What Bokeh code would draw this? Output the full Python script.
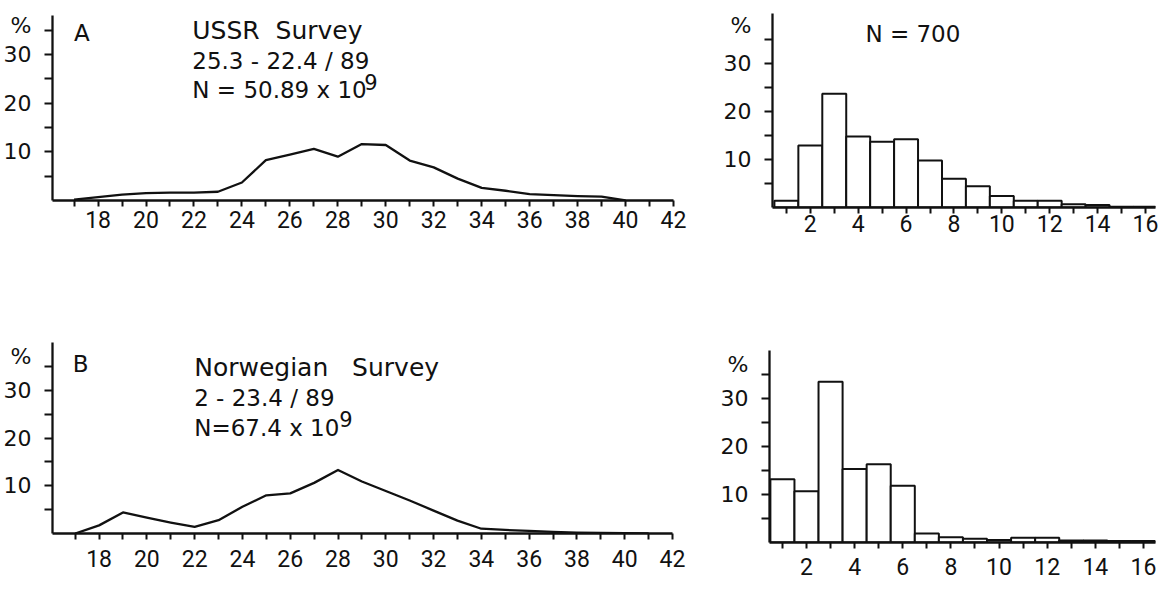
from bokeh.plotting import figure
from bokeh.layouts import column, row
from bokeh.models import FixedTicker, Label, Range1d
from bokeh.embed import file_html
from bokeh.resources import INLINE

# ---------------- data ----------------
lengthA = list(range(17, 41))
percentA = [0.2, 0.7, 1.2, 1.5, 1.6, 1.6, 1.8, 3.7, 8.3, 9.4, 10.6, 9.0,
            11.6, 11.4, 8.2, 6.8, 4.5, 2.6, 2.0, 1.3, 1.1, 0.9, 0.8, 0.0]

lengthB = list(range(17, 42))
percentB = [0.0, 1.7, 4.4, 3.3, 2.3, 1.4, 2.8, 5.6, 8.0, 8.4, 10.6, 13.3,
            10.9, 8.9, 6.9, 4.8, 2.7, 1.0, 0.75, 0.55, 0.35, 0.2, 0.1, 0.05, 0.0]

ageA = list(range(1, 17))
agePctA = [1.4, 12.9, 23.7, 14.8, 13.7, 14.2, 9.8, 6.0, 4.4, 2.4, 1.4, 1.4,
           0.7, 0.5, 0.15, 0.15]

ageB = list(range(1, 17))
agePctB = [13.2, 10.7, 33.5, 15.3, 16.3, 11.8, 1.9, 1.1, 0.8, 0.5, 1.0, 1.0,
           0.4, 0.4, 0.3, 0.3]

lenMajor = list(range(18, 43, 2))
lenMinor = list(range(17, 42, 2))
ageMajor = list(range(2, 17, 2))
ageMinor = list(range(1, 16, 2))
pctMajor = [10, 20, 30]
pctMinor = [5, 10, 15, 20, 25, 30, 35]
unitLabel = "%"

TICK_FONT = "Roboto"
YTICK_FONT = "DejaVu Sans"
TEXT_FONT = "DejaVu Sans"
INK = "#111111"
SP = "\u00a0"


def make_fig(width, height, bl, br, bt, bb, xr, yr, xstand, unit_at):
    p = figure(width=width, height=height, x_range=Range1d(*xr), y_range=Range1d(*yr),
               output_backend="svg", toolbar_location=None,
               min_border_left=bl, min_border_right=br,
               min_border_top=bt, min_border_bottom=bb)
    p.xgrid.visible = False
    p.ygrid.visible = False
    p.outline_line_color = None
    p.background_fill_color = "white"
    p.border_fill_color = "white"
    for ax in (p.xaxis, p.yaxis):
        ax.axis_line_width = 2.3
        ax.axis_line_color = INK
        ax.major_tick_line_width = 2
        ax.minor_tick_line_width = 2
        ax.major_tick_line_color = INK
        ax.minor_tick_line_color = INK
        ax.major_tick_in = 0
        ax.minor_tick_in = 0
        ax.major_label_text_color = INK
    p.xaxis.major_label_text_font = TICK_FONT
    p.xaxis.major_label_text_font_size = "23px"
    p.xaxis.major_tick_out = 6
    p.xaxis.minor_tick_out = 6
    p.xaxis.major_label_standoff = xstand
    # y axis: visible ticks are the "minor" ones; major ticks only carry labels
    p.yaxis.major_label_text_font = YTICK_FONT
    p.yaxis.major_label_text_font_size = "22px"
    p.yaxis.major_tick_out = 0
    p.yaxis.major_tick_line_color = None
    p.yaxis.minor_tick_out = 8
    p.yaxis.major_label_standoff = 13
    p.yaxis.ticker = FixedTicker(ticks=pctMajor + [unit_at], minor_ticks=pctMinor)
    p.yaxis.major_label_overrides = {unit_at: unitLabel}
    return p


def add_text(p, x, y, txt, size="23px"):
    p.add_layout(Label(x=x, y=y, text=txt,
                       text_font=TEXT_FONT, text_font_size=size,
                       text_baseline="alphabetic", text_align="left", text_color=INK))


# ---------------- panel A (line) ----------------
pA = make_fig(708, 298, 48, 35, 15, 98, (16.1, 42.0), (0, 38.0), 4, 36)
pA.xaxis.ticker = FixedTicker(ticks=lenMajor, minor_ticks=lenMinor)
pA.line(lengthA, percentA, line_width=2.3, line_color=INK, line_join="round")
add_text(pA, 17.0, 34.5, "A")
add_text(pA, 21.93, 34.9, "USSR" + SP * 2 + "Survey", size="25px")
add_text(pA, 21.93, 28.75, "25.3 - 22.4 / 89")
add_text(pA, 21.93, 22.6, "N = 50.89 x 10")
add_text(pA, 29.1, 24.4, "9", size="21px")

# ---------------- panel A (bars) ----------------
pAr = make_fig(452, 298, 64, 5, 13, 91, (0.42, 16.42), (0, 40.4), 1, 38)
pAr.xaxis.ticker = FixedTicker(ticks=ageMajor, minor_ticks=ageMinor)
pAr.vbar(x=ageA, top=agePctA, width=1.0, bottom=0, fill_color="white",
         line_color=INK, line_width=2)
add_text(pAr, 4.3, 36.2, "N = 700")

# ---------------- panel B (line) ----------------
pB = make_fig(708, 291, 45, 36, 44, 56, (16.05, 42.0), (0, 40.0), 10, 37)
pB.xaxis.ticker = FixedTicker(ticks=lenMajor, minor_ticks=lenMinor)
pB.line(lengthB, percentB, line_width=2.3, line_color=INK, line_join="round")
add_text(pB, 16.9, 35.6, "B")
add_text(pB, 21.98, 34.8, "Norwegian" + SP * 3 + "Survey", size="25px")
add_text(pB, 21.98, 28.3, "2 - 23.4 / 89")
add_text(pB, 21.98, 22.0, "N=67.4 x 10")
add_text(pB, 28.05, 24.0, "9", size="21px")

# ---------------- panel B (bars) ----------------
pBr = make_fig(452, 291, 61, 5, 52, 47, (0.463, 16.5), (0, 40.0), 9, 37)
pBr.xaxis.ticker = FixedTicker(ticks=ageMajor, minor_ticks=ageMinor)
pBr.vbar(x=ageB, top=agePctB, width=1.0, bottom=0, fill_color="white",
         line_color=INK, line_width=2)

# each figure in its own wrapper so that frames are not aligned across panels
layout = column(row(column(pA), column(pAr)), row(column(pB), column(pBr)))
open("out.html", "w").write(file_html(layout, INLINE))
